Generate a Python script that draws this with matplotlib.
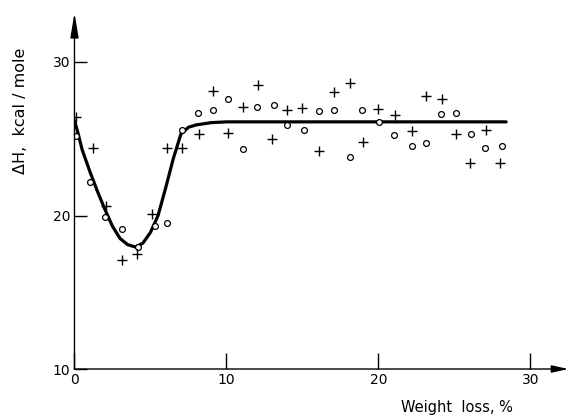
import matplotlib
matplotlib.use("Agg")
import matplotlib.pyplot as plt

## Data ##
# open circles
circ_x = [0.1, 1.0, 2.0, 3.1, 4.15, 5.3, 6.1, 7.1, 8.1, 9.1, 10.1, 11.1, 12.0, 13.1,
          14.0, 15.1, 16.1, 17.1, 18.1, 18.9, 20.05, 21.0, 22.2, 23.1, 24.1, 25.1,
          26.1, 27.0, 28.1]
circ_y = [25.2, 22.2, 19.9, 19.1, 17.95, 19.3, 19.5, 25.6, 26.7, 26.9, 27.6, 24.3, 27.1, 27.2,
          25.9, 25.6, 26.8, 26.85, 23.8, 26.85, 26.1, 25.25, 24.5, 24.7, 26.6, 26.7,
          25.3, 24.4, 24.55]
# crosses
cross_x = [0.1, 1.2, 2.1, 3.1, 4.1, 5.1, 6.1, 7.1, 8.2, 9.1, 10.1, 11.1, 12.1, 13.0,
           14.0, 15.0, 16.1, 17.05, 18.1, 19.0, 20.0, 21.1, 22.2, 23.1, 24.2, 25.1,
           26.0, 27.1, 28.0]
cross_y = [26.4, 24.4, 20.6, 17.1, 17.5, 20.1, 24.4, 24.4, 25.3, 28.1, 25.35, 27.1, 28.5, 25.0,
           26.9, 27.0, 24.2, 28.05, 28.6, 24.8, 26.95, 26.55, 25.5, 27.8, 27.6, 25.3,
           23.45, 25.55, 23.4]
# hand-drawn curve
curve_x = [0, 0.25, 0.5, 1, 1.5, 2, 2.5, 3, 3.5, 4, 4.5, 5, 5.5, 6, 6.5, 7, 7.5, 8, 9, 10,
           12, 15, 20, 25, 28.4]
curve_y = [26.2, 25.3, 24.3, 22.9, 21.6, 20.4, 19.3, 18.5, 18.1, 17.95, 18.2, 18.9, 20.0,
           21.8, 23.7, 25.3, 25.75, 25.9, 26.05, 26.1, 26.1, 26.1, 26.1, 26.1, 26.1]

fig = plt.figure(figsize=(5.76, 4.18), dpi=100)
ax = fig.add_axes([0.1293, 0.1172, 0.8576, 0.852])

ax.plot(curve_x, curve_y, color="black", lw=2.3, solid_capstyle="round",
        solid_joinstyle="round", zorder=2)
ax.plot(circ_x, circ_y, "o", mfc="white", mec="black", ms=4.2, mew=0.9, zorder=3)
ax.plot(cross_x, cross_y, "+", color="black", ms=7, mew=1.0, zorder=3)

ax.set_xlim(0, 32.5)
ax.set_ylim(10, 33.2)
for s in ax.spines.values():
    s.set_visible(False)

# axes drawn as arrows
xarrow = dict(arrowstyle="-|>,head_length=1.0,head_width=0.22", color="black", lw=1.0,
              shrinkA=0, shrinkB=0)
yarrow = dict(arrowstyle="-|>,head_length=1.5,head_width=0.25", color="black", lw=1.0,
              shrinkA=0, shrinkB=0)
ax.annotate("", xy=(32.5, 10), xytext=(0, 10), arrowprops=xarrow, annotation_clip=False)
ax.annotate("", xy=(0, 33.2), xytext=(0, 10), arrowprops=yarrow, annotation_clip=False)

ax.set_xticks([0, 10, 20, 30])
ax.set_yticks([10, 20, 30])
ax.tick_params(axis="x", direction="in", length=11.5, width=1, pad=3, labelsize=10)
ax.tick_params(axis="y", direction="in", length=9.5, width=1, pad=3, labelsize=10)

ax.set_xlabel("Weight  loss, %", fontsize=10.5)
ax.xaxis.set_label_coords(0.775, -0.088)
ax.set_ylabel("ΔH,  kcal / mole", fontsize=11.5)
ax.yaxis.set_label_coords(-0.094, 0.725)

fig.savefig("out.png", dpi=100)
